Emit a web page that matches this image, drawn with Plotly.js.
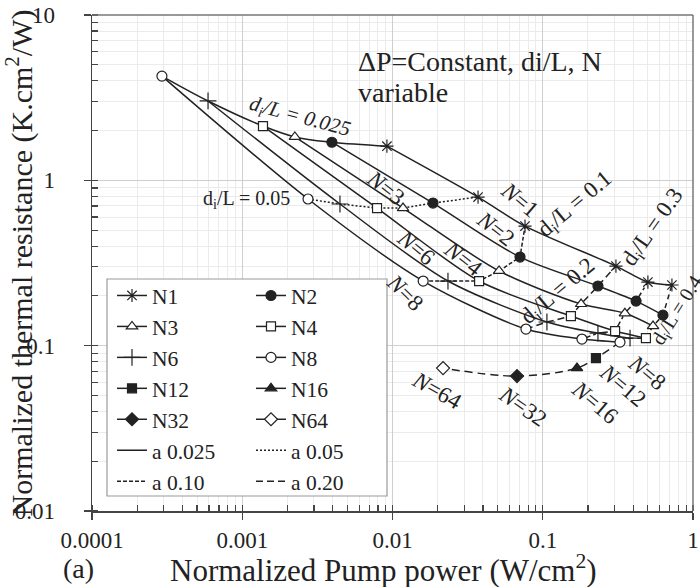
<!DOCTYPE html>
<html><head><meta charset="utf-8">
<script src="https://cdn.plot.ly/plotly-3.0.1.min.js"></script>
<style>html,body{margin:0;padding:0;background:#fff}#c{width:700px;height:587px}</style>
</head><body><div id="c"></div>
<script>
// di/L values along each N curve
const diL = [0.025, 0.05, 0.1, 0.2, 0.3, 0.4];
// Normalized pump power (W/cm2) and thermal resistance (K.cm2/W) for each N
const pumpN1 = [0.00918, 0.0371, 0.0762, 0.307, 0.501, 0.724];
const resN1  = [1.61, 0.792, 0.529, 0.303, 0.2425, 0.2327];
const pumpN2 = [0.00395, 0.0186, 0.0706, 0.233, 0.418, 0.631];
const resN2  = [1.70, 0.729, 0.3435, 0.2295, 0.186, 0.153];
const pumpN3 = [0.00224, 0.01175, 0.0512, 0.180, 0.352, 0.542];
const resN3  = [1.83, 0.680, 0.283, 0.1786, 0.157, 0.1314];
const pumpN4 = [0.001374, 0.00789, 0.0377, 0.154, 0.303, 0.486];
const resN4  = [2.13, 0.680, 0.246, 0.151, 0.1226, 0.111];
const pumpN6 = [0.000592, 0.00447, 0.0234, 0.1066, 0.233, 0.381];
const resN6  = [3.02, 0.719, 0.246, 0.139, 0.119, 0.111];
const pumpN8 = [0.000292, 0.00274, 0.0160, 0.0773, 0.1823, 0.3266];
const resN8  = [4.27, 0.771, 0.246, 0.126, 0.1096, 0.105];
// single points (di/L = 0.4)
const pumpN12 = [0.226], resN12 = [0.0841];
const pumpN16 = [0.169], resN16 = [0.0732];
const pumpN32 = [0.0674], resN32 = [0.0655];
const pumpN64 = [0.0217], resN64 = [0.0732];
// tick labels
const xTicks = [0.0001, 0.001, 0.01, 0.1, 1];
const xTickText = ['0.0001', '0.001', '0.01', '0.1', '1'];
const yTicks = [0.01, 0.1, 1, 10];
const yTickText = ['0.01', '0.1', '1', '10'];

const INK = '#222';
const SERIF = '"Liberation Serif", "Times New Roman", "DejaVu Serif", serif';

// fill: 'w' = white-filled outline marker, 'k' = solid dark marker
const nSeries = [
  {name:'N1', x:pumpN1, y:resN1, sym:'asterisk-open', size:11, fill:'k', leg:'legend', rank:1},
  {name:'N2', x:pumpN2, y:resN2, sym:'circle', size:10, fill:'k', leg:'legend2', rank:1},
  {name:'N3', x:pumpN3, y:resN3, sym:'triangle-up', size:10, fill:'w', leg:'legend', rank:2},
  {name:'N4', x:pumpN4, y:resN4, sym:'square', size:9, fill:'w', leg:'legend2', rank:2},
  {name:'N6', x:pumpN6, y:resN6, sym:'cross-thin-open', size:12, fill:'k', leg:'legend', rank:3},
  {name:'N8', x:pumpN8, y:resN8, sym:'circle', size:10, fill:'w', leg:'legend2', rank:3},
];
const singles = [
  {name:'N12', x:pumpN12, y:resN12, sym:'square', size:9, fill:'k', leg:'legend', rank:4},
  {name:'N16', x:pumpN16, y:resN16, sym:'triangle-up', size:10, fill:'k', leg:'legend2', rank:4},
  {name:'N32', x:pumpN32, y:resN32, sym:'diamond', size:10, fill:'k', leg:'legend', rank:5},
  {name:'N64', x:pumpN64, y:resN64, sym:'diamond', size:10, fill:'w', leg:'legend2', rank:5},
];
const mk = s => ({symbol:s.sym, size:s.size, color: s.fill === 'w' ? '#fff' : INK, line:{color:INK, width:1.2}});

const traces = [];
// di/L connecting lines (order N8 -> N1)
const order = [5,4,3,2,1,0];
const diStyles = [
  {dash:'solid', name:'a 0.025', leg:'legend', rank:6, show:true},
  {dash:'2px,2px', name:'a 0.05', leg:'legend2', rank:6, show:true},
  {dash:'4px,2px', name:'a 0.10', leg:'legend', rank:7, show:true},
  {dash:'7px,4px', name:'a 0.20', leg:'legend2', rank:7, show:true},
  {dash:'dashdot', name:'a 0.30', leg:'legend', rank:8, show:false},
  {dash:'5px,4px', name:'a 0.40', leg:'legend', rank:9, show:false},
];
diL.forEach((d, i) => {
  const xs = order.map(k => nSeries[k].x[i]);
  const ys = order.map(k => nSeries[k].y[i]);
  traces.push({x:xs, y:ys, mode:'lines', type:'scatter', name:diStyles[i].name,
    line:{color:INK, width:1.5, dash:diStyles[i].dash, shape: i===0 ? 'spline' : 'linear'},
    showlegend:diStyles[i].show, legend:diStyles[i].leg, legendrank:diStyles[i].rank, hoverinfo:'skip'});
});
// dashed line N8 (di/L=0.4) -> N12 -> N16 -> N32 -> N64
traces.push({x:[pumpN8[5], pumpN12[0], pumpN16[0], pumpN32[0], pumpN64[0]],
  y:[resN8[5], resN12[0], resN16[0], resN32[0], resN64[0]],
  mode:'lines', type:'scatter', line:{color:INK, width:1.5, dash:'8px,5px', shape:'spline'},
  showlegend:false, hoverinfo:'skip'});
// N curves
nSeries.forEach(s => {
  traces.push({x:s.x, y:s.y, type:'scatter', mode:'lines+markers', name:s.name,
    line:{color:INK, width:1.5, shape:'spline', smoothing:0.8},
    marker:mk(s), legend:s.leg, legendrank:s.rank});
});
singles.forEach(s => {
  traces.push({x:s.x, y:s.y, type:'scatter', mode:'lines+markers', name:s.name,
    line:{color:INK, width:1.5},
    marker:mk(s), legend:s.leg, legendrank:s.rank});
});

const L = 92, R = 693, T = 15, B = 511;
const px = v => (v - L) / (R - L);
const py = v => (B - v) / (B - T);
function ann(x, y, text, angle, size, extra) {
  return Object.assign({xref:'paper', yref:'paper', x:px(x), y:py(y), text:text, textangle:angle,
    showarrow:false, font:{family:SERIF, size:size, color:INK}, xanchor:'center', yanchor:'middle'}, extra||{});
}
const dl = v => 'd<sub>i</sub>/L = ' + v;
const annotations = [
  ann(356, 62, '\u0394P=Constant, di/L, N', 0, 28, {xanchor:'left'}),
  ann(356, 93, 'variable', 0, 28, {xanchor:'left'}),
  ann(300, 117, '<i>' + dl('0.025') + '</i>', 15, 21),
  ann(246, 200, dl('0.05'), 0, 20),
  ann(519, 200, '<i>N</i>=1', 40, 23),
  ann(495, 229, '<i>N</i>=2', 38, 23),
  ann(385, 188, '<i>N</i>=3', 38, 23),
  ann(463, 258, '<i>N</i>=4', 38, 23),
  ann(416, 247, '<i>N</i>=6', 40, 23),
  ann(405, 292, '<i>N</i>=8', 45, 23),
  ann(575, 205, dl('0.1'), -40, 23),
  ann(558, 292, dl('0.2'), -40, 23),
  ann(653, 228, dl('0.3'), -55, 23),
  ann(677, 311, dl('0.4'), -58, 20),
  ann(647, 372, '<i>N</i>=8', 40, 23),
  ann(623, 385, '<i>N</i>=12', 40, 23),
  ann(595, 402, '<i>N</i>=16', 40, 23),
  ann(523, 406, '<i>N</i>=32', 35, 23),
  ann(437, 390, '<i>N</i>=64', 30, 23),
  ann(78, 568, '(a)', 0, 28),
  ann(383, 568, 'Normalized Pump power (W/cm<sup>2</sup>)', 0, 31),
];

const axisCommon = {
  type:'log', tickmode:'array', showline:true, linecolor:'#444', linewidth:1.5,
  ticks:'outside', ticklen:7, tickcolor:'#444', tickwidth:1.2,
  showgrid:true, gridcolor:'#cfcfcf', gridwidth:1, zeroline:false,
  tickfont:{family:SERIF, size:23, color:INK},
  minor:{showgrid:true, gridcolor:'#ebebeb', gridwidth:1, ticks:'inside', ticklen:6, tickcolor:'#444', dtick:'D1'}
};

const layout = {
  width:700, height:587,
  margin:{l:L, r:700-R, t:T, b:587-B, pad:0},
  paper_bgcolor:'#fff', plot_bgcolor:'#fff',
  font:{family:SERIF, color:INK},
  xaxis:Object.assign({}, axisCommon, {range:[-4, 0], tickvals:xTicks, ticktext:xTickText, ticklabelstandoff:1}),
  yaxis:Object.assign({}, axisCommon, {range:[-2, 1], tickvals:yTicks, ticktext:yTickText, ticklabelstandoff:24,
    title:{text:'Normalized thermal resistance (K.cm<sup>2</sup>/W)', font:{family:SERIF, size:30, color:INK}, standoff:0}}),
  showlegend:true,
  legend:{x:px(112), y:py(275), xanchor:'left', yanchor:'top', bgcolor:'rgba(0,0,0,0)', borderwidth:0,
    font:{family:SERIF, size:21.5, color:INK}, tracegroupgap:0, traceorder:'normal'},
  legend2:{x:px(251), y:py(275), xanchor:'left', yanchor:'top', bgcolor:'rgba(0,0,0,0)', borderwidth:0,
    font:{family:SERIF, size:21.5, color:INK}, tracegroupgap:0, traceorder:'normal'},
  shapes:[
    {type:'rect', xref:'paper', yref:'paper', x0:px(107), x1:px(387), y0:py(496), y1:py(279),
      fillcolor:'#fff', line:{color:'#999', width:1.2}, layer:'above'},
    {type:'line', xref:'paper', yref:'paper', x0:0, x1:1, y0:1, y1:1, line:{color:'#777', width:1.5}},
    {type:'line', xref:'paper', yref:'paper', x0:1, x1:1, y0:0, y1:1, line:{color:'#777', width:1.5}},
  ],
  annotations:annotations,
};
Plotly.newPlot('c', traces, layout, {displayModeBar:false, staticPlot:true});
</script></body></html>
